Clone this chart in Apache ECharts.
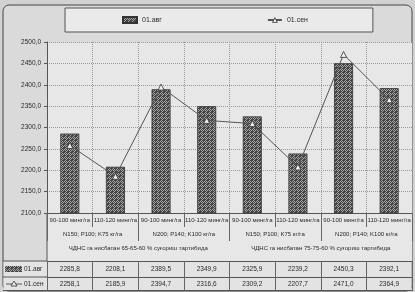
<!DOCTYPE html>
<html>
<head>
<meta charset="utf-8">
<script src="https://cdn.jsdelivr.net/npm/echarts@6/dist/echarts.min.js"></script>
<style>
html,body{margin:0;padding:0;background:#d2d2d2;}
#main{width:415px;height:292px;}
</style>
</head>
<body>
<div id="main"></div>
<script>
const categories = ['90-100 минг/га', '110-120 минг/га', '90-100 минг/га', '110-120 минг/га',
                    '90-100 минг/га', '110-120 минг/га', '90-100 минг/га', '110-120 минг/га'];
const fertGroups = ['N150; P100; K75 кг/га', 'N200; P140; K100 кг/га', 'N150; P100; K75 кг/га', 'N200; P140; K100 кг/га'];
const regimes = ['ЧДНС га нисбатан 65-65-60 % суғориш тартибида', 'ЧДНС га нисбатан 75-75-60 % суғориш тартибида'];
const seriesNames = ['01.авг', '01.сен'];
const aug = [2285.8, 2208.1, 2389.5, 2349.9, 2325.9, 2239.2, 2450.3, 2392.1];
const sep = [2258.1, 2185.9, 2394.7, 2316.6, 2309.2, 2207.7, 2471.0, 2364.9];
const yMin = 2100, yMax = 2500, yStep = 50;

const font = 'Liberation Sans, Arial, sans-serif';
const fmt = v => v.toFixed(1).replace('.', ',');

function makePattern() {
    const c = document.createElement('canvas');
    c.width = 4; c.height = 4;
    const g = c.getContext('2d');
    g.fillStyle = '#444444';
    g.fillRect(0, 0, 4, 4);
    g.fillStyle = '#a4a4a4';
    g.fillRect(1, 0, 1, 1);
    g.fillRect(0, 1, 1, 1);
    g.fillRect(2, 1, 1, 1);
    g.fillRect(1, 2, 1, 1);
    g.fillRect(3, 2, 1, 1);
    g.fillRect(2, 3, 1, 1);
    return c;
}
const pattern = { image: makePattern(), repeat: 'repeat' };

const chart = echarts.init(document.getElementById('main'));

// grid: 47..412 x, 42..213 y
const rowAxis = (data, offset, opts) => Object.assign({
    type: 'category', gridIndex: 0, position: 'bottom', offset: offset, data: data,
    axisLine: { show: false },
    axisTick: { show: false },
    splitLine: { show: false },
    axisLabel: { interval: 0, fontSize: 6, color: '#2a2a2a', fontFamily: font, margin: 4 }
}, opts);

const tick = len => ({ show: true, interval: 0, length: len, lineStyle: { color: '#666', width: 1 } });
const line = { show: true, lineStyle: { color: '#555', width: 1 } };

const option = {
    animation: false,
    textStyle: { fontFamily: font },
    graphic: [
        { type: 'rect', z: -2, shape: { x: 3, y: 5, width: 409, height: 286, r: 6 },
          style: { fill: '#dadada', stroke: '#444', lineWidth: 1 } },
        { type: 'rect', z: -1, shape: { x: 47, y: 42, width: 365, height: 219 }, style: { fill: '#e7e7e7' } },
        { type: 'rect', z: -1, shape: { x: 3.5, y: 261, width: 408, height: 29.5 }, style: { fill: '#e3e3e3' } },
        { type: 'line', shape: { x1: 47, y1: 213, x2: 47, y2: 261 }, style: { stroke: '#555', lineWidth: 1 } },
        { type: 'line', shape: { x1: 3, y1: 261, x2: 47, y2: 261 }, style: { stroke: '#555', lineWidth: 1 } },
        { type: 'line', shape: { x1: 3, y1: 277, x2: 47, y2: 277 }, style: { stroke: '#555', lineWidth: 1 } },
        { type: 'line', shape: { x1: 3, y1: 290.5, x2: 412, y2: 290.5 }, style: { stroke: '#555', lineWidth: 1 } },
        { type: 'rect', shape: { x: 5, y: 266, width: 17, height: 6 }, style: { fill: pattern } },
        { type: 'text', x: 24, y: 269, style: { text: seriesNames[0], fontSize: 6.5, fill: '#2a2a2a', fontFamily: font, verticalAlign: 'middle' } },
        { type: 'polyline', shape: { points: [[6, 284], [22, 284]] }, style: { stroke: '#555', lineWidth: 1 } },
        { type: 'polygon', shape: { points: [[14, 281], [11, 286], [17, 286]] }, style: { fill: '#eee', stroke: '#333', lineWidth: 0.8 } },
        { type: 'text', x: 24, y: 284, style: { text: seriesNames[1], fontSize: 6.5, fill: '#2a2a2a', fontFamily: font, verticalAlign: 'middle' } }
    ],
    legend: {
        left: 65, top: 8,
        padding: [8, 65, 8, 57],
        itemGap: 105,
        itemWidth: 14, itemHeight: 6,
        backgroundColor: '#eaeaea', borderColor: '#555', borderWidth: 1,
        textStyle: { fontSize: 7, color: '#2a2a2a', fontFamily: font },
        data: [
            { name: seriesNames[0], icon: 'rect' },
            { name: seriesNames[1], itemStyle: { color: '#f2f2f2', borderColor: '#333', borderWidth: 0.8 } }
        ]
    },
    grid: { left: 47, right: 3, top: 42, bottom: 79, containLabel: false },
    xAxis: [
        rowAxis(categories, 0, {
            axisLine: line, axisTick: tick(14),
            splitLine: { show: true, interval: 0, lineStyle: { type: 'dotted', color: '#999' } }
        }),
        rowAxis(fertGroups, 14, { axisTick: tick(14) }),
        rowAxis(regimes, 28, {}),
        rowAxis(aug.map(fmt), 48, { axisLine: line, axisTick: tick(16), axisLabel: { interval: 0, fontSize: 6.5, color: '#2a2a2a', fontFamily: font, margin: 5 } }),
        rowAxis(sep.map(fmt), 64, { axisLine: line, axisTick: tick(14), axisLabel: { interval: 0, fontSize: 6.5, color: '#2a2a2a', fontFamily: font, margin: 4 } })
    ],
    yAxis: {
        type: 'value', min: yMin, max: yMax, interval: yStep,
        axisLine: { show: true, lineStyle: { color: '#555' } },
        axisTick: { show: true, length: 3, lineStyle: { color: '#555' } },
        axisLabel: { fontSize: 6.5, color: '#2a2a2a', margin: 6, fontFamily: font, formatter: fmt },
        splitLine: { lineStyle: { type: 'dotted', color: '#999' } }
    },
    series: [
        {
            name: seriesNames[0], type: 'bar', xAxisIndex: 0, barWidth: 19,
            data: aug,
            itemStyle: { color: pattern, borderColor: '#333', borderWidth: 0.8 }
        },
        {
            name: seriesNames[1], type: 'line', xAxisIndex: 0,
            data: sep,
            symbol: 'triangle', symbolSize: 6,
            lineStyle: { color: '#555', width: 1 },
            itemStyle: { color: '#f2f2f2', borderColor: '#333', borderWidth: 0.8 }
        }
    ]
};
chart.setOption(option);
</script>
</body>
</html>
